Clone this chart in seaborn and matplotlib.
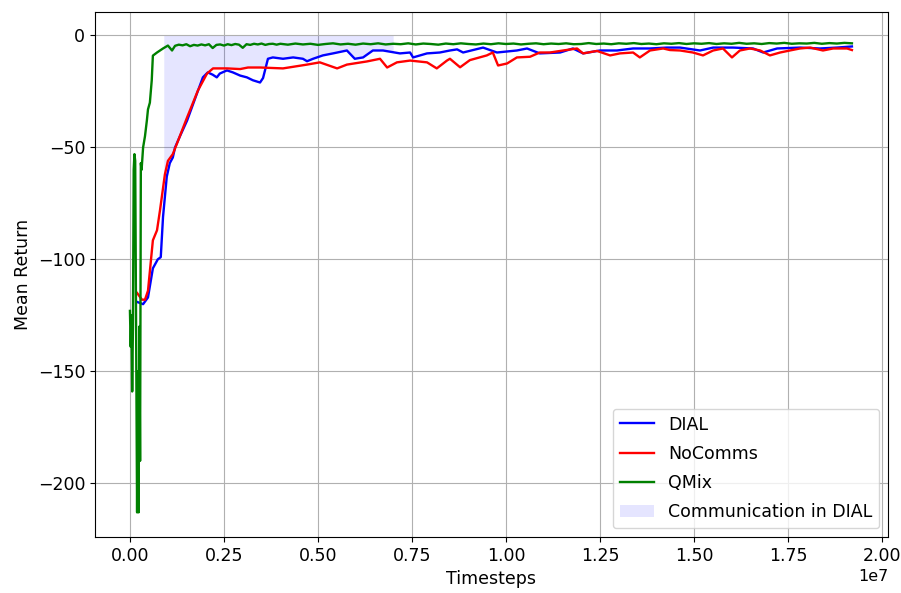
import numpy as np
import pandas as pd
import matplotlib
matplotlib.use("Agg")
import matplotlib.pyplot as plt
import seaborn as sns

# Training curves (timesteps in millions, mean episode return)
dial_steps = [0.19, 0.35, 0.48, 0.61, 0.74, 0.82, 0.88, 0.98, 1.06, 1.14, 1.20, 1.33,
              1.52, 1.78, 1.94, 2.07, 2.20, 2.31, 2.39, 2.58, 2.74, 2.93, 3.11, 3.27,
              3.46, 3.54, 3.67, 3.80, 4.07, 4.34, 4.60, 4.71, 4.87, 5.13, 5.40, 5.77,
              5.98, 6.20, 6.46, 6.73, 7.18, 7.45, 7.53, 7.90, 8.24, 8.51, 8.70, 8.86,
              9.39, 9.76, 10.29, 10.56, 10.90, 11.44, 11.78, 12.05, 12.50, 12.95, 13.38,
              13.83, 14.28, 14.63, 15.16, 15.51, 16.04, 16.57, 16.84, 17.21, 17.82,
              18.35, 18.80, 19.20]
dial_return = [-119, -120, -117, -104, -100, -99, -81, -63, -57, -54.5, -50, -45,
               -38, -26, -18.7, -16.5, -17.5, -18.7, -17, -15.6, -16.5, -17.9, -18.7, -20,
               -21, -19, -10.4, -9.8, -10.4, -9.8, -10.4, -11.5, -10.4, -8.9, -8, -6.7,
               -10.4, -9.8, -6.7, -6.7, -8, -7.6, -9.8, -8, -7.6, -6.7, -6.2, -7.6,
               -5.4, -7.6, -6.7, -5.8, -8, -7.6, -5.8, -8, -6.7, -6.7, -5.8,
               -5.8, -5.4, -5.4, -6.7, -5.4, -5.4, -5.8, -7.6, -5.8, -5.4,
               -5.8, -5.4, -4.9]

nocomms_steps = [0.19, 0.32, 0.40, 0.48, 0.61, 0.72, 0.80, 0.93, 1.01, 1.14, 1.28, 1.52,
                 1.81, 2.05, 2.21, 2.58, 2.93, 3.14, 3.46, 4.07, 4.71, 5.05, 5.51, 5.77,
                 6.30, 6.65, 6.84, 7.10, 7.45, 7.90, 8.16, 8.43, 8.51, 8.78, 9.04, 9.49,
                 9.65, 9.79, 10.03, 10.29, 10.64, 10.90, 11.17, 11.52, 11.89, 12.05,
                 12.42, 12.77, 13.03, 13.38, 13.56, 13.83, 14.18, 14.36, 14.63, 14.97,
                 15.24, 15.51, 15.77, 16.01, 16.22, 16.49, 16.76, 17.02, 17.29, 17.55,
                 17.82, 18.09, 18.43, 18.70, 19.07, 19.20]
nocomms_return = [-115, -118, -118, -114, -91.5, -87, -78, -62, -56, -53, -47, -36.6,
                  -24.5, -17, -14.7, -14.7, -15, -14.3, -14.3, -14.7, -13, -12, -14.7, -13,
                  -11.6, -10.4, -14.3, -12, -11.2, -12, -14.7, -11.2, -10.4, -14.2, -11, -8.9,
                  -7.6, -13.4, -12.5, -9.8, -9.5, -7.6, -7.6, -6.7, -5.8, -8,
                  -6.9, -8.9, -8, -7.6, -9.8, -6.7, -5.8, -6.5, -6.7, -7.6,
                  -8.9, -6.7, -5.8, -9.8, -6.7, -5.8, -6.7, -8.9, -7.6, -6.7,
                  -5.8, -5.4, -6.7, -5.8, -5.8, -6.5]

qmix_steps = [0.00, 0.02, 0.04, 0.06, 0.08, 0.10, 0.12, 0.14, 0.16, 0.19, 0.21, 0.23,
              0.25, 0.27, 0.29, 0.31, 0.33, 0.35, 0.40, 0.45, 0.48, 0.53, 0.58, 0.61,
              0.72, 0.88, 1.01, 1.12,
              1.2, 1.3, 1.4, 1.5, 1.6, 1.7, 1.8, 1.9, 2.0, 2.1, 2.2, 2.3, 2.4, 2.5,
              2.6, 2.7, 2.8, 2.9, 3.0, 3.1, 3.2, 3.3, 3.4, 3.5, 3.6, 3.7, 3.8, 3.9,
              4.0, 4.2, 4.4, 4.6, 4.8, 5.0, 5.2, 5.4, 5.6, 5.8, 6.0, 6.2, 6.4, 6.6,
              6.8, 7.0, 7.2, 7.4, 7.6, 7.8, 8.0, 8.2, 8.4, 8.6, 8.8, 9.0, 9.2, 9.4,
              9.6, 9.8, 10.0, 10.2, 10.4, 10.6, 10.8, 11.0, 11.2, 11.4, 11.6, 11.8,
              12.0, 12.2, 12.4, 12.6, 12.8, 13.0, 13.2, 13.4, 13.6, 13.8, 14.0, 14.2,
              14.4, 14.6, 14.8, 15.0, 15.2, 15.4, 15.6, 15.8, 16.0, 16.2, 16.4, 16.6,
              16.8, 17.0, 17.2, 17.4, 17.6, 17.8, 18.0, 18.2, 18.4, 18.6, 18.8, 19.0,
              19.2]
qmix_return = [-123, -139, -125, -159, -130, -60, -53, -56, -120, -213, -150, -213,
               -130, -190, -57, -60, -55, -50, -45, -38, -33, -30, -20, -9,
               -7.6, -5.8, -4.5, -6.7,
               -4.6, -4.1, -4.4, -3.9, -4.8, -4.2, -4.5, -4.0, -4.4, -3.9, -5.6, -4.2, -4.0, -4.5,
               -3.9, -4.3, -3.8, -4.1, -5.5, -3.9, -4.2, -3.7, -4.0, -3.6, -4.2, -3.8, -3.7, -4.1,
               -3.7, -4.1, -3.6, -4.0, -3.7, -4.2, -3.8, -3.5, -4.0, -3.7, -4.1, -3.6, -3.9, -3.5,
               -4.0, -3.7, -3.9, -3.5, -4.0, -3.6, -3.8, -4.1, -3.6, -3.9, -3.5, -3.8, -4.0, -3.6,
               -3.9, -3.5, -3.8, -3.6, -4.0, -3.7, -3.5, -3.9, -3.6, -3.8, -3.5, -3.9,
               -3.8, -3.4, -3.8, -3.6, -3.9, -3.5, -3.7, -3.4, -3.8, -3.6, -3.9, -3.5,
               -3.7, -3.4, -3.8, -3.5, -3.7, -3.4, -3.8, -3.5, -3.7, -3.3, -3.7, -3.5,
               -3.8, -3.4, -3.6, -3.3, -3.7, -3.5, -3.6, -3.3, -3.7, -3.4, -3.6, -3.3,
               -3.5]

# Window (millions of timesteps) in which DIAL agents exchange messages
comm_start, comm_end = 0.9, 7.0

SCALE = 1e6

frames = []
for name, steps, ret in [("DIAL", dial_steps, dial_return),
                         ("NoComms", nocomms_steps, nocomms_return),
                         ("QMix", qmix_steps, qmix_return)]:
    frames.append(pd.DataFrame({"Timesteps": np.asarray(steps) * SCALE,
                                "Mean Return": ret, "method": name}))
df = pd.concat(frames, ignore_index=True)

fig, ax = plt.subplots(figsize=(9.01, 5.93), dpi=100)
fig.subplots_adjust(left=0.1054, right=0.9856, bottom=0.0944, top=0.9798)

palette = {"DIAL": "blue", "NoComms": "red", "QMix": "green"}
for name in ["DIAL", "NoComms", "QMix"]:
    sub = df[df["method"] == name]
    sns.lineplot(data=sub, x="Timesteps", y="Mean Return", color=palette[name],
                 label=name, linewidth=1.7, ax=ax, estimator=None, sort=False)

# Shade the gap between the learning curves and zero during the communication window
grid = np.linspace(comm_start, comm_end, 600)
lower = np.maximum(np.interp(grid, dial_steps, dial_return),
                   np.interp(grid, nocomms_steps, nocomms_return))
ax.fill_between(grid * SCALE, lower, 0, color="blue", alpha=0.1, linewidth=0,
                label="Communication in DIAL")

ax.set_xlim(-0.093e7, 2.016e7)
ax.set_ylim(-224, 10.5)
ax.grid(True, color="#b0b0b0", linewidth=0.8)
ax.set_axisbelow(True)
ax.tick_params(labelsize=12.5)
ax.xaxis.get_offset_text().set_fontsize(11.5)
ax.set_xlabel("Timesteps", fontsize=12.5)
ax.set_ylabel("Mean Return", fontsize=12.5)
ax.legend(loc="lower right", fontsize=12.5, labelspacing=0.65)

fig.savefig("out.png", dpi=100)
